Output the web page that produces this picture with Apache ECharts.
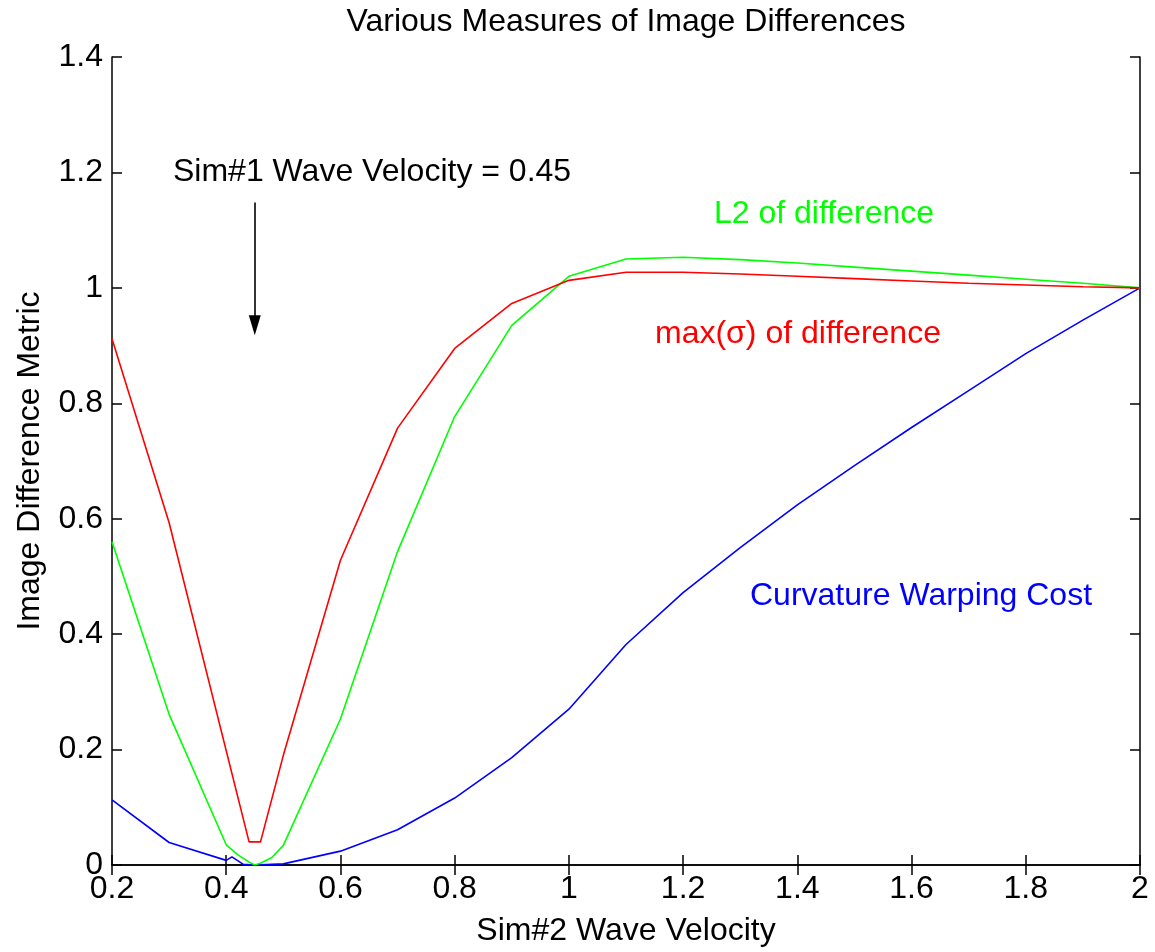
<!DOCTYPE html>
<html>
<head>
<meta charset="utf-8">
<script src="https://cdn.jsdelivr.net/npm/echarts@6/dist/echarts.min.js"></script>
<style>html,body{margin:0;padding:0;background:#fff}#c{width:1155px;height:952px}</style>
</head>
<body>
<div id="c"></div>
<script>
// ---- data ----
const redX   = [0.2, 0.3, 0.44, 0.46, 0.5, 0.6, 0.7, 0.8, 0.9, 1.0, 1.1, 1.2, 1.3, 1.4, 1.5, 1.6, 1.7, 1.8, 1.9, 2.0];
const redY   = [0.912, 0.593, 0.04, 0.04, 0.19, 0.528, 0.757, 0.895, 0.973, 1.013, 1.027, 1.027, 1.024, 1.02, 1.016, 1.012, 1.008, 1.005, 1.002, 1.0];
const greenX = [0.2, 0.3, 0.4, 0.42, 0.44, 0.45, 0.46, 0.48, 0.5, 0.6, 0.7, 0.8, 0.9, 1.0, 1.1, 1.2, 1.3, 1.4, 1.5, 1.6, 1.7, 1.8, 1.9, 2.0];
const greenY = [0.56, 0.261, 0.035, 0.018, 0.005, 0.0, 0.003, 0.013, 0.034, 0.253, 0.543, 0.777, 0.935, 1.02, 1.05, 1.053, 1.049, 1.043, 1.036, 1.029, 1.022, 1.015, 1.008, 1.0];
const blueX  = [0.2, 0.3, 0.4, 0.41, 0.43, 0.45, 0.5, 0.6, 0.7, 0.8, 0.9, 1.0, 1.1, 1.2, 1.3, 1.4, 1.5, 1.6, 1.7, 1.8, 1.9, 2.0];
const blueY  = [0.113, 0.039, 0.008, 0.014, 0.001, 0.0, 0.002, 0.024, 0.061, 0.116, 0.186, 0.27, 0.382, 0.472, 0.55, 0.624, 0.692, 0.758, 0.822, 0.886, 0.944, 1.0];
const arrowX = 0.45, arrowTop = 1.148, arrowTip = 0.935;

const titleText = 'Various Measures of Image Differences';
const xName = 'Sim#2 Wave Velocity';
const yName = 'Image Difference Metric';

const zip = (xs, ys) => xs.map((x, i) => [x, ys[i]]);
const FONT = '"Liberation Sans", Arial, Helvetica, sans-serif';
const FS = 32;

const chart = echarts.init(document.getElementById('c'), null, {renderer: 'canvas'});
const axisCommon = {
  type: 'value',
  min: 0, max: 1.4, interval: 0.2,
  axisLine: {show: true, lineStyle: {color: '#000', width: 1.5}},
  axisTick: {show: true, inside: true, length: 10, lineStyle: {color: '#000', width: 1.5}},
  splitLine: {show: false}
};
chart.setOption({
  animation: false,
  backgroundColor: '#fff',
  grid: {left: 112, right: 15, top: 57, bottom: 85, containLabel: false},
  xAxis: [
    Object.assign({}, axisCommon, {
      min: 0.2, max: 2, interval: 0.2, position: 'bottom',
      name: xName, nameLocation: 'middle', nameGap: 50,
      nameTextStyle: {fontFamily: FONT, fontSize: FS, color: '#000'},
      axisLabel: {fontFamily: FONT, fontSize: FS, color: '#000', margin: 8}
    }),
    Object.assign({}, axisCommon, {
      min: 0.2, max: 2, interval: 0.2, position: 'top',
      axisLabel: {show: false}
    })
  ],
  yAxis: [
    Object.assign({}, axisCommon, {
      position: 'left',
      name: yName, nameLocation: 'middle', nameGap: 66, nameRotate: 90,
      nameTextStyle: {fontFamily: FONT, fontSize: FS, color: '#000'},
      axisLabel: {fontFamily: FONT, fontSize: FS, color: '#000', margin: 9}
    }),
    Object.assign({}, axisCommon, {position: 'right', axisLabel: {show: false}})
  ],
  series: [
    {
      type: 'line', data: zip(redX, redY), showSymbol: false, symbol: 'none',
      lineStyle: {color: '#ff0000', width: 1.6}, z: 3,
      markLine: {
        silent: true, symbol: ['none', 'triangle'], symbolSize: [12, 20],
        lineStyle: {color: '#000', width: 1.6, type: 'solid'},
        label: {show: false},
        data: [[{coord: [arrowX, arrowTop]}, {coord: [arrowX, arrowTip]}]]
      }
    },
    {type: 'line', data: zip(greenX, greenY), showSymbol: false, symbol: 'none', lineStyle: {color: '#00ff00', width: 1.6}, z: 2},
    {type: 'line', data: zip(blueX, blueY), showSymbol: false, symbol: 'none', lineStyle: {color: '#0000ff', width: 1.6}, z: 1}
  ],
  graphic: [
    {type: 'text', x: 626, y: 22, style: {text: titleText, font: FS + 'px ' + FONT, fill: '#000', align: 'center', verticalAlign: 'middle'}},
    {type: 'text', x: 173, y: 172, style: {text: 'Sim#1 Wave Velocity = 0.45', font: FS + 'px ' + FONT, fill: '#000', verticalAlign: 'middle'}},
    {type: 'text', x: 714, y: 214, style: {text: 'L2 of difference', font: FS + 'px ' + FONT, fill: '#00ff00', verticalAlign: 'middle'}},
    {type: 'text', x: 655, y: 334, style: {text: 'max(σ) of difference', font: FS + 'px ' + FONT, fill: '#ff0000', verticalAlign: 'middle'}},
    {type: 'text', x: 750, y: 596, style: {text: 'Curvature Warping Cost', font: FS + 'px ' + FONT, fill: '#0000ff', verticalAlign: 'middle'}}
  ]
});
</script>
</body>
</html>
